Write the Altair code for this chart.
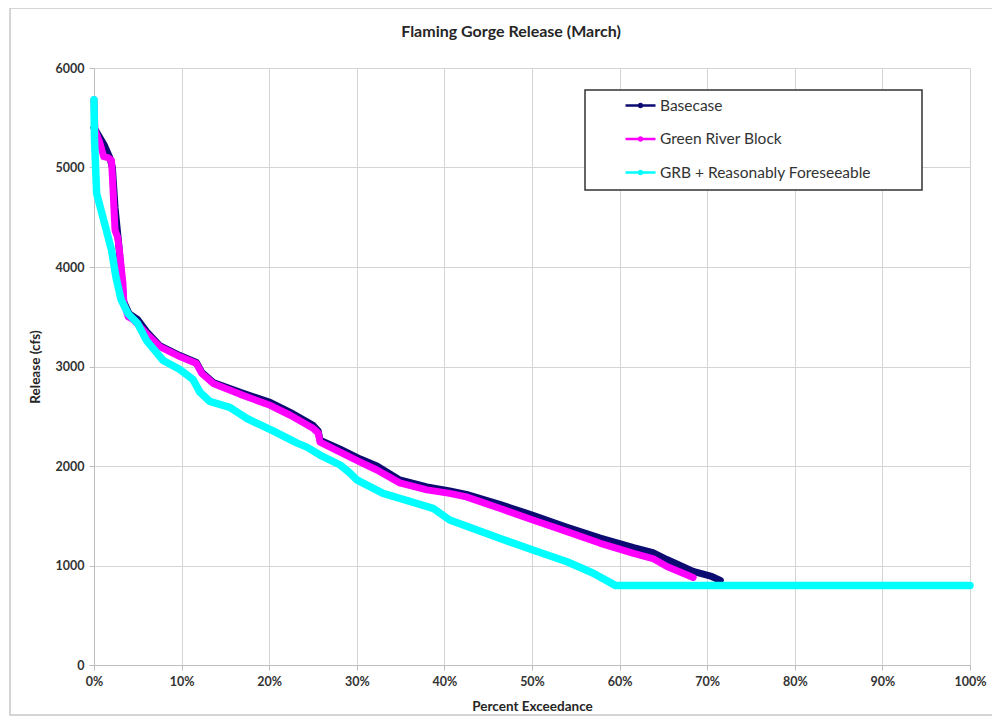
import altair as alt
import pandas as pd

# ---- data (percent exceedance, release in cfs) ----
base_pct = [0, 0.8, 1.2, 1.8, 2.1, 2.4, 2.8, 3.1, 3.4, 4.0, 5.0, 6.0, 7.5, 9.8, 11.7, 12.3,
            13.6, 16.7, 20.1, 22.4, 25.0, 25.6, 25.8, 28.1, 30.4, 32.3, 34.9, 38.0, 40.6,
            42.5, 46.3, 50.1, 54.0, 57.8, 61.6, 63.8, 65.4, 68.4, 70.5, 71.5]
base_val = [5400, 5280, 5220, 5100, 5000, 4600, 4250, 3950, 3650, 3530, 3470, 3350, 3210,
            3110, 3040, 2940, 2840, 2740, 2640, 2540, 2410, 2350, 2260, 2170, 2070, 2000,
            1860, 1790, 1750, 1715, 1615, 1505, 1385, 1275, 1180, 1130, 1060, 940, 890, 850]

grb_pct = [0, 0.1, 0.7, 1.1, 1.6, 2.0, 2.1, 2.4, 2.7, 2.9, 3.1, 3.3, 3.4, 3.9, 4.5, 6.0,
           7.5, 9.8, 11.7, 12.3, 13.6, 16.7, 20.1, 22.4, 25.0, 25.6, 25.8, 28.1, 30.4,
           32.3, 34.9, 38.0, 40.6, 42.5, 46.3, 50.1, 54.0, 57.8, 61.6, 63.8, 65.4, 68.4]
grb_val = [5680, 5380, 5240, 5110, 5100, 5070, 4910, 4370, 4300, 4170, 4000, 3840, 3640,
           3500, 3470, 3330, 3200, 3100, 3030, 2930, 2830, 2720, 2610, 2510, 2380, 2330,
           2240, 2140, 2040, 1960, 1830, 1760, 1725, 1690, 1575, 1457, 1340, 1223, 1122,
           1070, 990, 880]

rf_pct = [0, 0.05, 0.3, 1.2, 2.0, 2.5, 3.1, 3.9, 5.0, 6.0, 7.9, 9.8, 11.3, 12.1, 13.2,
          15.5, 17.4, 20.5, 23.2, 24.3, 25.8, 28.1, 29.2, 30.0, 33.0, 38.7, 40.6, 46.3,
          50.1, 54.0, 57.0, 59.5, 100]
rf_val = [5680, 5300, 4740, 4440, 4170, 3900, 3670, 3530, 3430, 3260, 3060, 2970, 2870,
          2740, 2650, 2590, 2480, 2350, 2230, 2190, 2110, 2010, 1930, 1860, 1725, 1575,
          1457, 1273, 1156, 1038, 922, 800, 800]

series_names = ["Basecase", "Green River Block", "GRB + Reasonably Foreseeable"]
series_colors = ["#0b0b72", "#ff00ff", "#00ffff"]
series_widths = [7, 7, 7.5]
x_ticks = list(range(0, 101, 10))
y_ticks = list(range(0, 6001, 1000))
chart_title = "Flaming Gorge Release (March)"

FONT = "Lato"


def frame_of(name, pct, val):
    return pd.DataFrame({"series": name, "pct": pct, "release": val,
                         "idx": list(range(len(pct)))})


color_scale = alt.Scale(domain=series_names, range=series_colors)

legend_symbol = ("M-1,0H1M-0.1,0A0.1,0.1 0 1,1 0.1,0"
                 "A0.1,0.1 0 1,1 -0.1,0Z")

x_enc = alt.X("pct:Q", scale=alt.Scale(domain=[0, 100], nice=False),
              axis=alt.Axis(values=x_ticks, labelExpr="datum.value + '%'",
                            labelFlush=False, title="Percent Exceedance"))
y_enc = alt.Y("release:Q", scale=alt.Scale(domain=[0, 6000], nice=False),
              axis=alt.Axis(values=y_ticks, format="d", labelFlush=False,
                            title="Release (cfs)"))


def line_layer(df, width):
    legend = alt.Legend(title=None, orient="none", legendX=530, legendY=21,
                        symbolType=legend_symbol, symbolSize=900, symbolStrokeWidth=2.6,
                        labelFont=FONT, labelFontSize=15.5, labelColor="#333333",
                        labelOffset=3, rowPadding=8.5, labelLimit=400)
    return alt.Chart(df).mark_line(strokeWidth=width, strokeJoin="round",
                                   strokeCap="round").encode(
        x=x_enc, y=y_enc,
        color=alt.Color("series:N", scale=color_scale, legend=legend),
        order="idx:Q",
    )


one = alt.Data(values=[{"k": 1}])
outer = alt.Chart(one).mark_rect(fill="transparent", stroke="#c8c8c8",
                                 strokeWidth=1.5).encode(
    x=alt.value(-84), x2=alt.value(901), y=alt.value(-60), y2=alt.value(647))
legend_box = alt.Chart(one).mark_rect(fill="white", stroke="#333333",
                                      strokeWidth=1.5).encode(
    x=alt.value(491), x2=alt.value(828), y=alt.value(22), y2=alt.value(122))
title_mark = alt.Chart(alt.Data(values=[{"t": chart_title}])).mark_text(
    font=FONT, fontSize=16, fontWeight="bold", color="#262626",
    align="center", baseline="middle").encode(
    text="t:N", x=alt.value(417), y=alt.value(-36))

chart = alt.layer(
    outer,
    legend_box,
    title_mark,
    line_layer(frame_of(series_names[0], base_pct, base_val), series_widths[0]),
    line_layer(frame_of(series_names[1], grb_pct, grb_val), series_widths[1]),
    line_layer(frame_of(series_names[2], rf_pct, rf_val), series_widths[2]),
).properties(
    width=876, height=597,
    autosize="none",
    padding={"left": 86, "top": 60, "right": 22, "bottom": 55},
).configure_view(
    stroke=None
).configure_axis(
    labelFont=FONT, labelFontSize=12.5, labelFontWeight="bold", labelColor="#333333",
    titleFont=FONT, titleFontSize=13.5, titleFontWeight="bold", titleColor="#262626",
    gridColor="#d4d4d4", gridWidth=1, domainColor="#bdbdbd", tickColor="#bdbdbd",
    tickSize=5,
).configure_axisX(
    labelPadding=5, titlePadding=12
).configure_axisY(
    labelPadding=5, titlePadding=13
)

chart.save("out.html", embed_options={"renderer": "svg", "actions": False})
